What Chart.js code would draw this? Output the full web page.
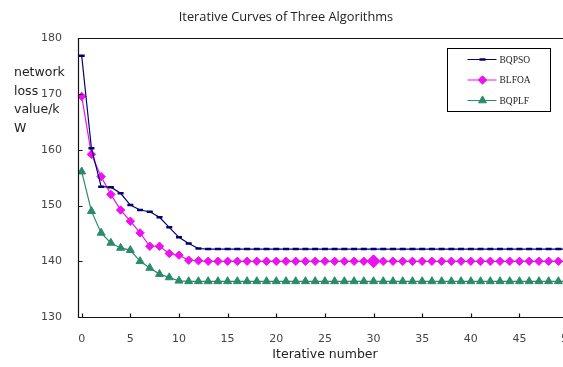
<!DOCTYPE html>
<html>
<head>
<meta charset="utf-8">
<script src="https://cdn.jsdelivr.net/npm/chart.js@4/dist/chart.umd.min.js"></script>
<style>
body{margin:0;background:#fff;overflow:hidden;}
#wrap{position:relative;width:590px;height:367px;}
#ylab{position:absolute;left:14px;top:63px;font:12.5px "DejaVu Sans",sans-serif;line-height:18.7px;color:#222;}
</style>
</head>
<body>
<div id="wrap">
  <canvas id="c"></canvas>
  <div id="ylab">network<br>loss<br>value/k<br>W</div>
</div>
<script>
const iterations=[0,1,2,3,4,5,6,7,8,9,10,11,12,13,14,15,16,17,18,19,20,21,22,23,24,25,26,27,28,29,30,31,32,33,34,35,36,37,38,39,40,41,42,43,44,45,46,47,48,49,50];
const bqpso=[176.9,160.3,153.4,153.3,152.2,150.1,149.2,148.9,147.9,146.1,144.3,143.2,142.3,142.2,142.2,142.2,142.2,142.2,142.2,142.2,142.2,142.2,142.2,142.2,142.2,142.2,142.2,142.2,142.2,142.2,142.2,142.2,142.2,142.2,142.2,142.2,142.2,142.2,142.2,142.2,142.2,142.2,142.2,142.2,142.2,142.2,142.2,142.2,142.2,142.2,142.2];
const blfoa=[169.6,159.2,155.2,152.0,149.2,147.2,145.1,142.7,142.7,141.4,141.1,140.2,140.1,140.0,140.0,140.0,140.0,140.0,140.0,140.0,140.0,140.0,140.0,140.0,140.0,140.0,140.0,140.0,140.0,140.0,140.0,140.0,140.0,140.0,140.0,140.0,140.0,140.0,140.0,140.0,140.0,140.0,140.0,140.0,140.0,140.0,140.0,140.0,140.0,140.0,140.0];
const bqplf=[156.1,149.0,145.1,143.3,142.4,142.0,140.0,138.8,137.7,137.1,136.5,136.4,136.4,136.4,136.4,136.4,136.4,136.4,136.4,136.4,136.4,136.4,136.4,136.4,136.4,136.4,136.4,136.4,136.4,136.4,136.4,136.4,136.4,136.4,136.4,136.4,136.4,136.4,136.4,136.4,136.4,136.4,136.4,136.4,136.4,136.4,136.4,136.4,136.4,136.4,136.4];
const seriesNames=['BQPSO','BLFOA','BQPLF'];
const yTicks=[130,140,150,160,170,180];
const xTicks=[0,5,10,15,20,25,30,35,40,45,50];

const pts=arr=>iterations.map((x,i)=>({x:x,y:arr[i]}));

// axes frame + inward tick marks
const frame={
  id:'frame',
  afterDatasetsDraw(chart){
    const {ctx,chartArea:a,scales:{x,y}}=chart;
    const L=Math.round(a.left)+0.5,T=Math.round(a.top)+0.5,B=Math.round(a.bottom)+0.5,R=chart.width;
    ctx.save();
    ctx.strokeStyle='#111';ctx.lineWidth=1.2;
    ctx.beginPath();
    ctx.moveTo(R,T);ctx.lineTo(L,T);ctx.lineTo(L,B);ctx.lineTo(R,B);
    xTicks.forEach(v=>{const p=Math.round(x.getPixelForValue(v))+0.5;ctx.moveTo(p,B);ctx.lineTo(p,B-4);});
    yTicks.forEach(v=>{const p=Math.round(y.getPixelForValue(v))+0.5;ctx.moveTo(L,p);ctx.lineTo(L+4,p);});
    ctx.stroke();
    ctx.restore();
  }
};

// boxed legend inside the plot
const boxLegend={
  id:'boxLegend',
  afterDraw(chart){
    const ctx=chart.ctx,a=chart.chartArea;
    const bx=447.5,by=Math.round(a.top)+10.5,bw=103,bh=63;
    ctx.save();
    ctx.fillStyle='#fff';ctx.fillRect(bx,by,bw,bh);
    ctx.strokeStyle='#000';ctx.lineWidth=1;ctx.strokeRect(bx,by,bw,bh);
    chart.data.datasets.forEach((ds,i)=>{
      const yy=by+11+i*20.5;
      ctx.strokeStyle=ds.borderColor;ctx.lineWidth=1;
      ctx.beginPath();ctx.moveTo(bx+20,yy);ctx.lineTo(bx+49,yy);ctx.stroke();
      ctx.fillStyle=ds.backgroundColor;ctx.strokeStyle=ds.borderColor;ctx.lineWidth=ds.pointBorderWidth;
      Chart.helpers.drawPoint(ctx,{pointStyle:ds.pointStyle,radius:ds.legendRadius,rotation:0,borderWidth:ds.pointBorderWidth},bx+35,yy);
      ctx.fillStyle='#222';ctx.font='9.5px "Liberation Serif",serif';ctx.textBaseline='middle';
      ctx.fillText(ds.label,bx+52,yy+0.5);
    });
    ctx.restore();
  }
};

new Chart(document.getElementById('c'),{
  type:'line',
  data:{datasets:[
    {label:seriesNames[0],data:pts(bqpso),borderColor:'#000070',backgroundColor:'#000070',borderWidth:1.2,
     pointStyle:'line',pointRadius:3,pointBorderWidth:2.5,legendRadius:3},
    {label:seriesNames[1],data:pts(blfoa),borderColor:'#ee10ee',backgroundColor:'#ee10ee',borderWidth:1.2,
     pointStyle:'rectRot',pointRadius:c=>c.dataIndex===30?6.5:4.2,pointBorderWidth:1,legendRadius:4.2},
    {label:seriesNames[2],data:pts(bqplf),borderColor:'#2a8a6a',backgroundColor:'#2a8a6a',borderWidth:1.2,
     pointStyle:'triangle',pointRadius:4.6,pointBorderWidth:1,legendRadius:4.6}
  ]},
  options:{
    responsive:true,maintainAspectRatio:false,animation:false,
    layout:{padding:{left:0,right:18,top:0,bottom:0}},
    plugins:{
      legend:{display:false},
      tooltip:{enabled:false},
      title:{display:true,text:'Iterative Curves of Three Algorithms',color:'#222',
        font:{family:'"Open Sans",sans-serif',size:12.8,weight:'normal'},padding:{top:9.6,bottom:13.5}}
    },
    scales:{
      x:{type:'linear',min:-0.38,max:50.4,
        grid:{display:false},border:{display:false},
        afterFit:s=>{s.height=50;},
        afterBuildTicks:s=>{s.ticks=xTicks.map(v=>({value:v}));},
        ticks:{color:'#444',font:{family:'"DejaVu Sans",sans-serif',size:11},padding:8,maxRotation:0,autoSkip:false},
        title:{display:true,text:'Iterative number',color:'#222',
          font:{family:'"DejaVu Sans",sans-serif',size:12.5},padding:{top:4,bottom:5}}
      },
      y:{min:130,max:180,
        grid:{display:false},border:{display:false},
        afterFit:s=>{s.width=78;},
        afterBuildTicks:s=>{s.ticks=yTicks.map(v=>({value:v}));},
        ticks:{color:'#444',font:{family:'"DejaVu Sans",sans-serif',size:11},padding:8}
      }
    }
  },
  plugins:[frame,boxLegend]
});
</script>
</body>
</html>
